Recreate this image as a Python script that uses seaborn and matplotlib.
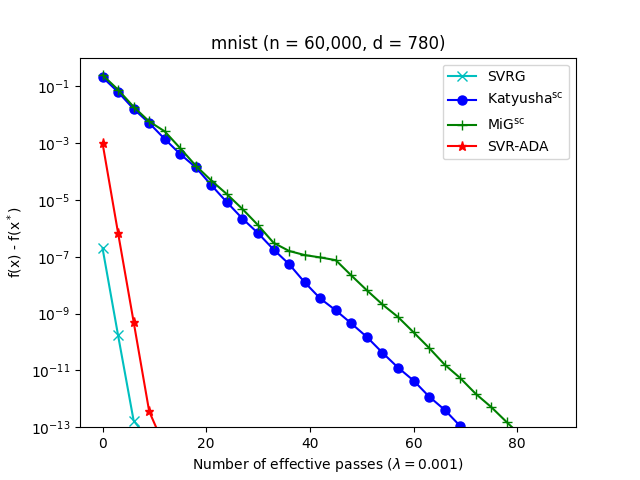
import matplotlib
matplotlib.use("Agg")
import matplotlib.pyplot as plt
import seaborn as sns

# values (objective gap per effective pass)
svrg_x = [0, 3, 6, 9]
svrg_y = [2e-7, 1.7e-10, 1.7e-13, 3.5e-14]

katyusha_x = [0, 3, 6, 9, 12, 15, 18, 21, 24, 27, 30, 33, 36, 39, 42, 45, 48,
              51, 54, 57, 60, 63, 66, 69, 72]
katyusha_y = [2.1e-1, 6.3e-2, 1.6e-2, 5.1e-3, 1.4e-3, 4.1e-4, 1.4e-4, 3.3e-5,
              8.3e-6, 2.2e-6, 6.8e-7, 1.8e-7, 5.5e-8, 1.26e-8, 3.4e-9, 1.3e-9,
              4.5e-10, 1.5e-10, 4.2e-11, 1.26e-11, 4.4e-12, 1.2e-12, 4.1e-13,
              1.1e-13, 3e-14]

mig_x = [0, 3, 6, 9, 12, 15, 18, 21, 24, 27, 30, 33, 36, 39, 42, 45, 48, 51,
         54, 57, 60, 63, 66, 69, 72, 75, 78, 81, 84, 87]
mig_y = [2.5e-1, 7.6e-2, 1.9e-2, 5.8e-3, 2.6e-3, 6.6e-4, 1.6e-4, 4.8e-5,
         1.6e-5, 4.8e-6, 1.3e-6, 3.1e-7, 1.6e-7, 1.15e-7, 9.5e-8, 7.6e-8,
         2.2e-8, 6.6e-9, 2.1e-9, 7.6e-10, 2.2e-10, 6.2e-11, 1.6e-11, 5.4e-12,
         1.5e-12, 5.1e-13, 1.5e-13, 4.5e-14, 1.4e-14, 4e-15]

ada_x = [0, 3, 6, 9, 12]
ada_y = [1e-3, 6.8e-7, 5.1e-10, 3.6e-13, 2e-14]

fig, ax = plt.subplots(figsize=(6.4, 4.8), dpi=100)

series = [
    (svrg_x, svrg_y, "SVRG", "c", "x"),
    (katyusha_x, katyusha_y, "Katyusha$^{\\mathrm{sc}}$", "b", "o"),
    (mig_x, mig_y, "MiG$^{\\mathrm{sc}}$", "g", "+"),
    (ada_x, ada_y, "SVR-ADA", "r", "*"),
]
for xs, ys, name, col, mk in series:
    sns.lineplot(x=xs, y=ys, ax=ax, color=col, marker=mk, label=name,
                 markersize=6.5, markeredgecolor=col, markerfacecolor=col,
                 markeredgewidth=1.0, linewidth=1.5)

ax.set_yscale("log")
ax.set_xlim(-4.35, 91.35)
ax.set_ylim(1e-13, 1.03)
ax.set_title("mnist (n = 60,000, d = 780)")
ax.set_xlabel("Number of effective passes ($\\lambda = 0.001$)")
ax.set_ylabel("f(x) - f(x$^*$)")
ax.legend(loc="upper right")

plt.savefig("out.png")
